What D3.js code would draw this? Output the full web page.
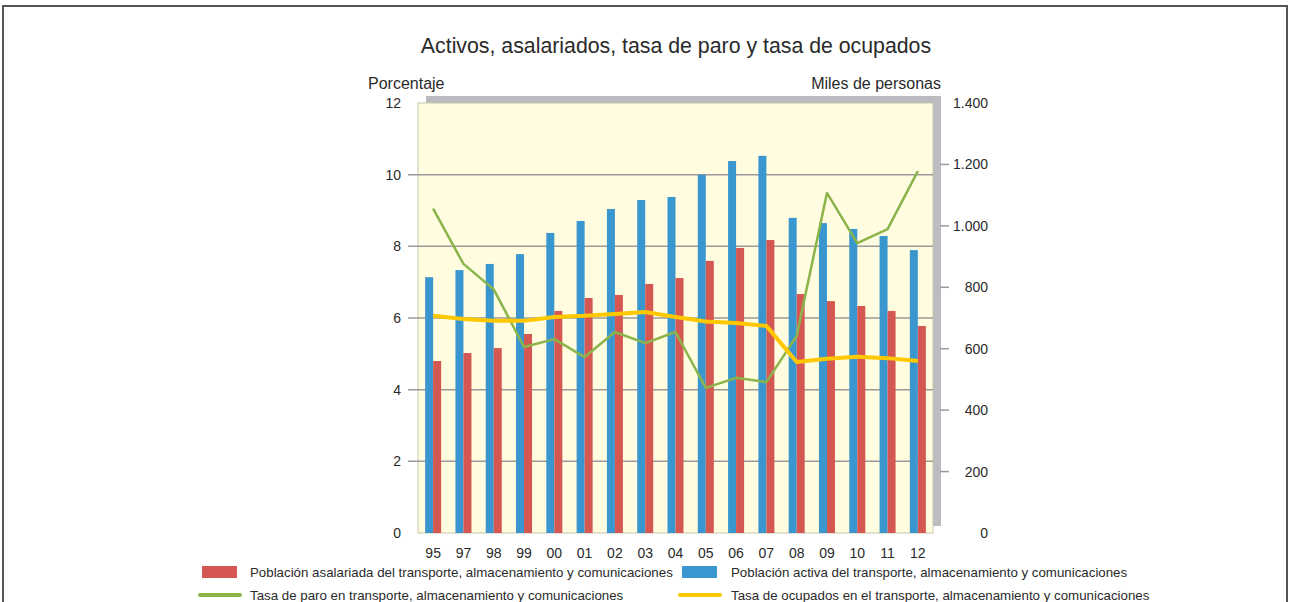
<!DOCTYPE html>
<html lang="es">
<head>
<meta charset="UTF-8">
<title>Activos, asalariados, tasa de paro y tasa de ocupados</title>
<script src="https://d3js.org/d3.v7.min.js"></script>
<style>
  body { margin: 0; background: #fff; }
  text { font-family: "Liberation Sans", Arial, sans-serif; fill: #2a2a2a; }
</style>
</head>
<body>
<svg id="chart" width="1289" height="602"></svg>
<script>
// data
const years = ["95", "97", "98", "99", "00", "01", "02", "03", "04", "05", "06", "07", "08", "09", "10", "11", "12"];
// miles de personas (right axis)
const activa = [833, 856, 876, 908, 977, 1016, 1055, 1084, 1094, 1166, 1211, 1228, 1026, 1009, 990, 967, 921];
const asalariada = [560, 586, 602, 648, 723, 765, 775, 811, 830, 886, 928, 954, 778, 755, 739, 723, 674];
// porcentaje (left axis)
const paro = [9.05, 7.51, 6.8, 5.19, 5.41, 4.91, 5.61, 5.3, 5.61, 4.05, 4.33, 4.21, 5.5, 9.49, 8.09, 8.48, 10.1];
const ocupados = [6.06, 5.97, 5.92, 5.92, 6.03, 6.06, 6.11, 6.17, 6.03, 5.9, 5.86, 5.78, 4.77, 4.86, 4.92, 4.88, 4.8];
const leftTicks = [0, 2, 4, 6, 8, 10, 12];
const rightTicks = [0, 200, 400, 600, 800, 1000, 1200, 1400];

const colors = { activa: "#3a96cf", asalariada: "#d55752", paro: "#8bb54a", ocupados: "#ffc800" };

const svg = d3.select("#chart");
const plot = { left: 418, right: 933, top: 103, bottom: 533 };

// outer frame
svg.append("path")
  .attr("d", "M3,602 V6 H1287 V602")
  .attr("fill", "none").attr("stroke", "#555").attr("stroke-width", 2);

const x = d3.scaleBand().domain(years).range([plot.left, plot.right]).padding(0);
const yL = d3.scaleLinear().domain([0, 12]).range([plot.bottom, plot.top]);
const yR = d3.scaleLinear().domain([0, 1400]).range([plot.bottom, plot.top]);

// title
svg.append("text")
  .attr("x", 676).attr("y", 53)
  .attr("text-anchor", "middle")
  .style("font-size", "21.3px")
  .text("Activos, asalariados, tasa de paro y tasa de ocupados");

svg.append("text").attr("x", 368).attr("y", 89).style("font-size", "16px").text("Porcentaje");
svg.append("text").attr("x", 941).attr("y", 89).attr("text-anchor", "end").style("font-size", "16px").text("Miles de personas");

// shadow + plot background
svg.append("rect")
  .attr("x", plot.left + 8).attr("y", plot.top - 7)
  .attr("width", plot.right - plot.left).attr("height", plot.bottom - plot.top)
  .attr("fill", "#bcbcc0");
svg.append("rect")
  .attr("x", plot.left).attr("y", plot.top)
  .attr("width", plot.right - plot.left).attr("height", plot.bottom - plot.top)
  .attr("fill", "#fffce0").attr("stroke", "#c8c6b0").attr("stroke-width", 1);

// gridlines (left axis)
svg.selectAll(".grid")
  .data(leftTicks.filter(d => d > 0 && d < 12))
  .enter().append("line")
  .attr("x1", plot.left - 10).attr("x2", plot.right)
  .attr("y1", d => yL(d)).attr("y2", d => yL(d))
  .attr("stroke", "#9a9a9a").attr("stroke-width", 1.5);

svg.selectAll(".ltick")
  .data(leftTicks)
  .enter().append("text")
  .attr("x", 401).attr("y", d => yL(d) + 5)
  .attr("text-anchor", "end")
  .style("font-size", "14px")
  .text(d => d);

// right axis ticks
svg.selectAll(".rtickline")
  .data(rightTicks.filter(d => d > 0 && d < 1400))
  .enter().append("line")
  .attr("x1", plot.right + 7).attr("x2", plot.right + 16)
  .attr("y1", d => yR(d)).attr("y2", d => yR(d))
  .attr("stroke", "#9a9a9a").attr("stroke-width", 1.5);

const fmt = d3.formatLocale({ decimal: ",", thousands: ".", grouping: [3], currency: ["", "€"] }).format(",");
svg.selectAll(".rtick")
  .data(rightTicks)
  .enter().append("text")
  .attr("x", 988).attr("y", d => yR(d) + 5)
  .attr("text-anchor", "end")
  .style("font-size", "14px")
  .text(d => fmt(d));

// bars
const bw = 8;
const cx = d => x(d) + x.bandwidth() / 2;
svg.selectAll(".bar-activa")
  .data(years)
  .enter().append("rect")
  .attr("x", d => cx(d) - bw)
  .attr("y", (d, i) => yR(activa[i]))
  .attr("width", bw)
  .attr("height", (d, i) => plot.bottom - yR(activa[i]))
  .attr("fill", colors.activa);
svg.selectAll(".bar-asal")
  .data(years)
  .enter().append("rect")
  .attr("x", d => cx(d))
  .attr("y", (d, i) => yR(asalariada[i]))
  .attr("width", bw)
  .attr("height", (d, i) => plot.bottom - yR(asalariada[i]))
  .attr("fill", colors.asalariada);

// x labels
svg.selectAll(".xlab")
  .data(years)
  .enter().append("text")
  .attr("x", d => cx(d)).attr("y", 558)
  .attr("text-anchor", "middle")
  .style("font-size", "14px")
  .text(d => d);

// lines
const line = vals => d3.line().x((d, i) => cx(years[i])).y(d => yL(d))(vals);
svg.append("path").attr("d", line(paro))
  .attr("fill", "none").attr("stroke", colors.paro).attr("stroke-width", 2.5).attr("stroke-linejoin", "round");
svg.append("path").attr("d", line(ocupados))
  .attr("fill", "none").attr("stroke", colors.ocupados).attr("stroke-width", 4).attr("stroke-linejoin", "round");

// legend
const legend = [
  { label: "Población asalariada del transporte, almacenamiento y comunicaciones", color: colors.asalariada, type: "rect", x: 202, y: 572 },
  { label: "Población activa del transporte, almacenamiento y comunicaciones", color: colors.activa, type: "rect", x: 682, y: 572 },
  { label: "Tasa de paro en transporte, almacenamiento y comunicaciones", color: colors.paro, type: "line", x: 200, y: 595 },
  { label: "Tasa de ocupados en el transporte, almacenamiento y comunicaciones", color: colors.ocupados, type: "line", x: 680, y: 595 }
];
legend.forEach(l => {
  if (l.type === "rect") {
    svg.append("rect").attr("x", l.x).attr("y", l.y - 6).attr("width", 35).attr("height", 12).attr("fill", l.color);
  } else {
    svg.append("line").attr("x1", l.x).attr("x2", l.x + 40).attr("y1", l.y).attr("y2", l.y)
      .attr("stroke", l.color).attr("stroke-width", 4).attr("stroke-linecap", "round");
  }
  svg.append("text").attr("x", 250 + (l.x > 600 ? 481 : 0)).attr("y", l.y + 4.5)
    .style("font-size", "13.3px").text(l.label);
});
</script>
</body>
</html>
